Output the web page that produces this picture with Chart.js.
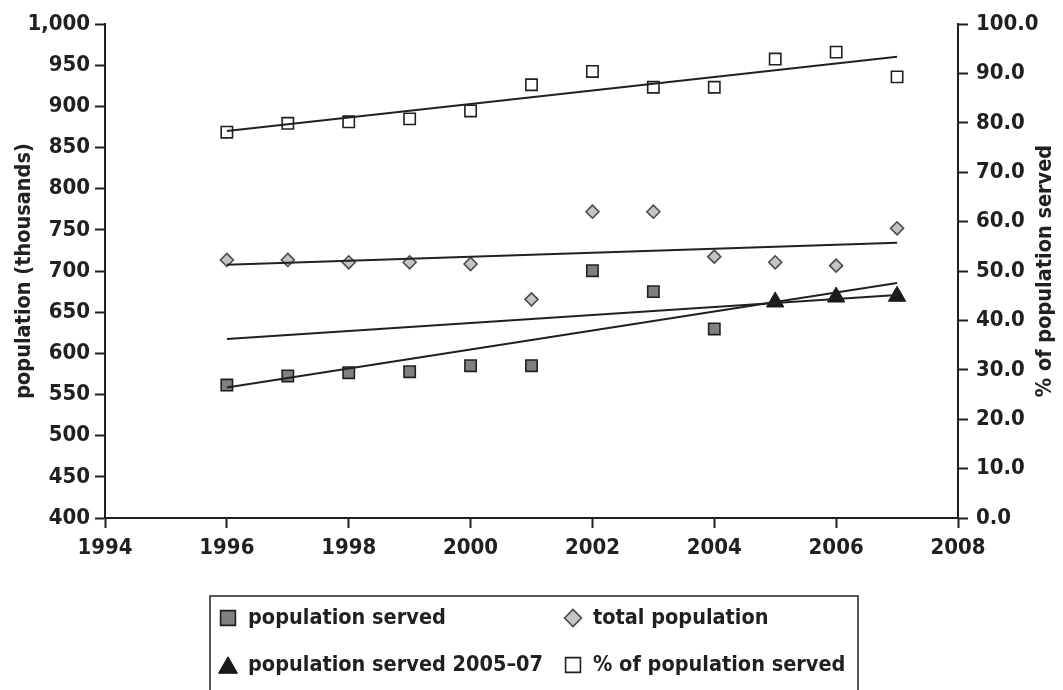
<!DOCTYPE html>
<html>
<head>
<meta charset="utf-8">
<script src="https://cdn.jsdelivr.net/npm/chart.js@4.4.1/dist/chart.umd.min.js"></script>
<style>
  html, body { margin: 0; padding: 0; background: #ffffff; }
  #wrap { width: 1063px; height: 690px; position: relative; overflow: hidden; }
</style>
</head>
<body>
<div id="wrap"><canvas id="chart" width="1063" height="690"></canvas></div>
<script>
// ---- data ----
const years = [1996, 1997, 1998, 1999, 2000, 2001, 2002, 2003, 2004, 2005, 2006, 2007];
const servedYears = [1996, 1997, 1998, 1999, 2000, 2001, 2002, 2003, 2004];
const servedValues = [561.5, 572.5, 576.5, 577.7, 585, 585, 700.4, 674.9, 629.6];      // thousands
const served0507Years = [2005, 2006, 2007];
const served0507Values = [662.4, 668.4, 669.3];                                          // thousands
const totalValues = [713.4, 713.4, 710.6, 710.6, 708.5, 665.6, 772, 772, 717.4, 710.6, 706.5, 751.9]; // thousands
const pctServedValues = [78.1, 79.9, 80.2, 80.8, 82.4, 87.7, 90.4, 87.2, 87.2, 92.9, 94.3, 89.3];      // %
// trend of the 2005–07 series, projected back to 1996
const trend0507Years = [1996, 2007];
const trend0507Values = [617.4, 670.8];

// tick values
const xTickValues = [1994, 1996, 1998, 2000, 2002, 2004, 2006, 2008];
const leftTickValues = [400, 450, 500, 550, 600, 650, 700, 750, 800, 850, 900, 950, 1000];
const rightTickValues = [0, 10, 20, 30, 40, 50, 60, 70, 80, 90, 100];

// legend labels
const labelServed = 'population served';
const labelTotal = 'total population';
const labelServed0507 = 'population served 2005–07';
const labelPct = '% of population served';

// ---- helpers ----
const INK = '#231f20';
const FONT = "'Liberation Sans Narrow', 'Arial Narrow', 'DejaVu Sans Condensed', 'Roboto Condensed', sans-serif";

function toPoints(xs, ys) {
  return xs.map((x, i) => ({ x: x, y: ys[i] }));
}

// least-squares straight line through the points, returned as its two end points
function linearTrend(xs, ys) {
  const n = xs.length;
  const mx = xs.reduce((a, b) => a + b, 0) / n;
  const my = ys.reduce((a, b) => a + b, 0) / n;
  let sxy = 0, sxx = 0;
  for (let i = 0; i < n; i++) {
    sxy += (xs[i] - mx) * (ys[i] - my);
    sxx += (xs[i] - mx) * (xs[i] - mx);
  }
  const slope = sxy / sxx;
  const x0 = xs[0], x1 = xs[n - 1];
  return [
    { x: x0, y: my + slope * (x0 - mx) },
    { x: x1, y: my + slope * (x1 - mx) }
  ];
}

const allServedYears = servedYears.concat(served0507Years);
const allServedValues = servedValues.concat(served0507Values);

function trendLine(points, axis) {
  return {
    label: '',
    data: points,
    yAxisID: axis,
    showLine: true,
    borderColor: INK,
    borderWidth: 2,
    pointRadius: 0,
    pointHoverRadius: 0,
    fill: false,
    order: 0
  };
}

const datasets = [
  trendLine(linearTrend(years, pctServedValues), 'y2'),
  trendLine(linearTrend(years, totalValues), 'y'),
  trendLine(linearTrend(allServedYears, allServedValues), 'y'),
  trendLine(toPoints(trend0507Years, trend0507Values), 'y'),
  {
    label: labelServed,
    data: toPoints(servedYears, servedValues),
    yAxisID: 'y',
    pointStyle: 'rect',
    pointRadius: 8,
    backgroundColor: '#808080',
    borderColor: INK,
    borderWidth: 1.6,
    order: 1,
    legendRadius: 10.5
  },
  {
    label: labelTotal,
    data: toPoints(years, totalValues),
    yAxisID: 'y',
    pointStyle: 'rectRot',
    pointRadius: 6.5,
    backgroundColor: '#c4c4c4',
    borderColor: '#4a4a4a',
    borderWidth: 1.6,
    order: 1,
    legendRadius: 8.5
  },
  {
    label: labelServed0507,
    data: toPoints(served0507Years, served0507Values),
    yAxisID: 'y',
    pointStyle: 'triangle',
    pointRadius: 10,
    backgroundColor: '#1a1a1a',
    borderColor: '#1a1a1a',
    borderWidth: 1,
    order: 1,
    legendRadius: 11
  },
  {
    label: labelPct,
    data: toPoints(years, pctServedValues),
    yAxisID: 'y2',
    pointStyle: 'rect',
    pointRadius: 8,
    backgroundColor: '#ffffff',
    borderColor: INK,
    borderWidth: 1.6,
    order: 1,
    legendRadius: 10.5
  }
];

// legend grid: which dataset goes in each cell, in reading order
const legendOrder = [labelServed, labelTotal, labelServed0507, labelPct];

const extrasPlugin = {
  id: 'extras',
  afterDraw(chart) {
    const ctx = chart.ctx;
    const ca = chart.chartArea;

    // right-hand axis title, reading bottom to top
    ctx.save();
    ctx.font = 'bold 21.5px ' + FONT;
    ctx.fillStyle = INK;
    ctx.textAlign = 'center';
    ctx.textBaseline = 'middle';
    ctx.translate(1045, (ca.top + ca.bottom) / 2);
    ctx.rotate(-Math.PI / 2);
    ctx.fillText(labelPct, 0, 0);
    ctx.restore();

    // boxed two-column legend below the plot
    const box = { left: 210, top: 596, right: 858, bottom: 700 };
    const colX = [228, 573];
    const rowY = [618, 665];
    ctx.save();
    ctx.strokeStyle = INK;
    ctx.lineWidth = 1.5;
    ctx.strokeRect(box.left, box.top, box.right - box.left, box.bottom - box.top);
    ctx.font = 'bold 21.5px ' + FONT;
    ctx.textBaseline = 'middle';
    ctx.textAlign = 'left';
    legendOrder.forEach((label, i) => {
      const ds = chart.data.datasets.find(d => d.label === label);
      const cx = colX[i % 2];
      const cy = rowY[Math.floor(i / 2)];
      ctx.fillStyle = ds.backgroundColor;
      ctx.strokeStyle = ds.borderColor;
      ctx.lineWidth = ds.borderWidth;
      const r = ds.legendRadius;
      const yOff = ds.pointStyle === 'triangle' ? r * 0.25 : 0;
      Chart.helpers.drawPoint(ctx, {
        pointStyle: ds.pointStyle,
        radius: r,
        rotation: 0,
        borderWidth: ds.borderWidth
      }, cx, cy + yOff);
      ctx.fillStyle = INK;
      ctx.fillText(label, cx + 20, cy);
    });
    ctx.restore();
  }
};

const tickFont = { family: FONT, size: 22, weight: 'bold' };

new Chart(document.getElementById('chart'), {
  type: 'scatter',
  data: { datasets: datasets },
  plugins: [extrasPlugin],
  options: {
    responsive: false,
    animation: false,
    devicePixelRatio: 1,
    layout: { padding: { top: 24, bottom: 122, left: 0, right: 0 } },
    plugins: {
      legend: { display: false },
      tooltip: { enabled: false }
    },
    elements: { line: { tension: 0 } },
    scales: {
      x: {
        type: 'linear',
        min: 1994,
        max: 2008,
        afterBuildTicks: s => { s.ticks = xTickValues.map(v => ({ value: v })); },
        afterFit: s => { s.height = 50; },
        ticks: {
          font: tickFont,
          color: INK,
          padding: 7,
          maxRotation: 0,
          callback: v => String(v)
        },
        grid: { drawOnChartArea: false, drawTicks: true, tickLength: 10, tickColor: INK, tickWidth: 2 },
        border: { display: true, color: INK, width: 2 }
      },
      y: {
        type: 'linear',
        position: 'left',
        min: 400,
        max: 1000,
        afterBuildTicks: s => { s.ticks = leftTickValues.map(v => ({ value: v })); },
        afterFit: s => { s.width = 105; },
        ticks: {
          font: tickFont,
          color: INK,
          padding: 5,
          callback: v => v.toLocaleString('en-US')
        },
        title: {
          display: true,
          text: 'population (thousands)',
          color: INK,
          font: { family: FONT, size: 21.5, weight: 'bold' },
          padding: { top: 12, bottom: 0 }
        },
        grid: { drawOnChartArea: false, drawTicks: true, tickLength: 10, tickColor: INK, tickWidth: 2 },
        border: { display: true, color: INK, width: 2 }
      },
      y2: {
        type: 'linear',
        position: 'right',
        min: 0,
        max: 100,
        afterBuildTicks: s => { s.ticks = rightTickValues.map(v => ({ value: v })); },
        afterFit: s => { s.width = 105; },
        ticks: {
          font: tickFont,
          color: INK,
          padding: 8,
          callback: v => v.toFixed(1)
        },
        grid: { drawOnChartArea: false, drawTicks: true, tickLength: 10, tickColor: INK, tickWidth: 2 },
        border: { display: true, color: INK, width: 2 }
      }
    }
  }
});
</script>
</body>
</html>
